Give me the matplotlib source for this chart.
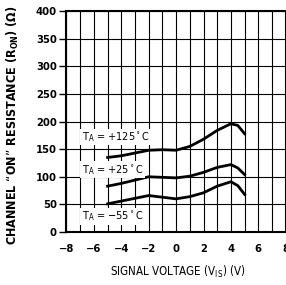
import matplotlib.pyplot as plt
import numpy as np

# signal voltage (V) and on-resistance (ohm)
v_125 = [-5, -4, -3, -2, -1, 0, 1, 2, 3, 4, 4.5, 5]
r_125 = [135, 138, 143, 148, 149, 148, 155, 168, 184, 196, 193, 178]
v_25 = [-5, -4, -3, -2, -1, 0, 1, 2, 3, 4, 4.5, 5]
r_25 = [83, 88, 94, 100, 99, 98, 101, 108, 117, 122, 116, 104]
v_m55 = [-5, -4, -3, -2, -1, 0, 1, 2, 3, 4, 4.5, 5]
r_m55 = [51, 56, 61, 66, 63, 60, 64, 71, 83, 91, 84, 68]

labels = ["T$_\\mathregular{A}$ = +125$^\\circ$C",
          "T$_\\mathregular{A}$ = +25$^\\circ$C",
          "T$_\\mathregular{A}$ = \u221255$^\\circ$C"]
label_pos = [172, 113, 28]

plt.rcParams['font.family'] = ['DejaVu Sans']
plt.rcParams['font.stretch'] = 'condensed'
plt.rcParams['mathtext.default'] = 'regular'

fig = plt.figure(figsize=(2.86, 2.85), dpi=100)
ax = fig.add_axes([0.2325, 0.186, 0.7665, 0.775])

ax.plot(v_125, r_125, color='black', lw=2.0)
ax.plot(v_25, r_25, color='black', lw=2.0)
ax.plot(v_m55, r_m55, color='black', lw=2.0)

for txt, y in zip(labels, label_pos):
    ax.text(-6.9, y, txt, fontsize=7.8, va='center', ha='left',
            bbox=dict(facecolor='white', edgecolor='none', pad=1.0))

ax.set_xlim(-8, 8)
ax.set_ylim(0, 400)
ax.set_xticks(np.arange(-8, 9, 2))
ax.set_xticks(np.arange(-8, 9, 1), minor=True)
ax.set_yticks(np.arange(0, 401, 50))
ax.set_xticklabels([str(t).replace('-', '\u2212') for t in range(-8, 9, 2)],
                   fontweight='bold')
ax.set_yticklabels([str(t) for t in range(0, 401, 50)], fontweight='bold')
ax.grid(which='both', axis='x', color='black', lw=0.8)
ax.grid(which='major', axis='y', color='black', lw=0.8)
ax.tick_params(axis='x', which='both', length=0, pad=9, labelsize=8)
ax.tick_params(axis='y', length=5, width=1, labelsize=8, pad=2)
for s in ax.spines.values():
    s.set_linewidth(1.5)

fig.text(0.045, 0.56, "CHANNEL \u201cON\u201d RESISTANCE (R$_\\mathregular{ON}$) (\u03a9)",
         rotation=90, ha='center', va='center', fontsize=9, fontweight='bold')
fig.text(0.62, 0.046, "SIGNAL VOLTAGE (V$_\\mathregular{IS}$) (V)",
         ha='center', va='center', fontsize=8.3)

fig.savefig('out.png', dpi=100)
